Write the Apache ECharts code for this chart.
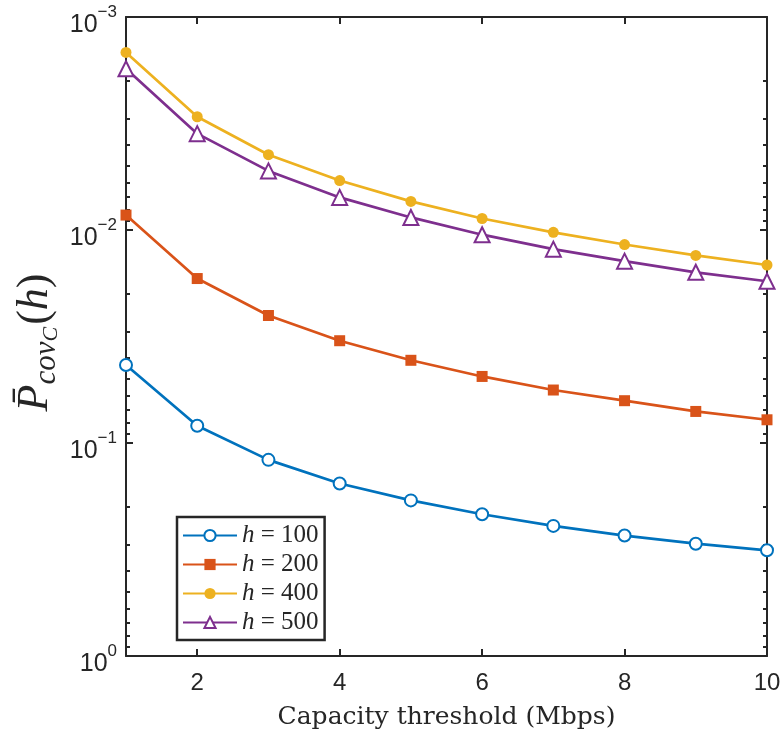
<!DOCTYPE html>
<html>
<head>
<meta charset="utf-8">
<script src="https://cdn.jsdelivr.net/npm/echarts@6/dist/echarts.min.js"></script>
<style>html,body{margin:0;padding:0;background:#fff}#c{width:780px;height:738px}</style>
</head>
<body>
<div id="c"></div>
<script>
const xValues = [1, 2, 3, 4, 5, 6, 7, 8, 9, 10];
const xTickLabels = [2, 4, 6, 8, 10];
const seriesNames = ['h = 100', 'h = 200', 'h = 400', 'h = 500'];
const h100 = [0.0430, 0.0830, 0.120, 0.155, 0.186, 0.216, 0.245, 0.272, 0.297, 0.319];
const h200 = [0.00851, 0.0169, 0.0252, 0.0331, 0.0409, 0.0487, 0.0564, 0.0633, 0.0711, 0.0778];
const h400 = [0.001466, 0.00294, 0.00443, 0.00586, 0.00734, 0.00883, 0.01026, 0.0117, 0.01316, 0.0146];
const h500 = [0.00175, 0.00353, 0.00528, 0.00703, 0.00873, 0.01052, 0.0123, 0.0140, 0.0158, 0.0174];
const yMajorExponents = [-3, -2, -1, 0];

const AX = '#262626';
const sansFont = '"Liberation Sans", Arial, Helvetica, sans-serif';
const serifFont = '"Liberation Serif", "DejaVu Serif", serif';
const wideSerif = '"DejaVu Serif", "Liberation Serif", serif';

const minorLog = [];
for (let d = -3; d < 0; d++) for (let k = 2; k <= 9; k++) minorLog.push(d + Math.log10(k));

const chart = echarts.init(document.getElementById('c'), null, {renderer: 'canvas'});

function mk(data) { return xValues.map((x, i) => [x, data[i]]); }

// every token fills the same line height (40); padding places the glyphs
const tickLabelRich = {
  b: {fontSize: 25, fontFamily: sansFont, color: AX, lineHeight: 24, padding: [16, 0, 0, 0]},
  s: {fontSize: 17, fontFamily: sansFont, color: AX, lineHeight: 17, padding: [7, 0, 16, 0]}
};

// every token fills the same line height (80); padding places the glyphs
const nameRich = {
  p: {fontFamily: serifFont, fontStyle: 'italic', fontSize: 44, lineHeight: 44, padding: [0, 0, 36, 0], color: AX},
  n: {fontFamily: serifFont, fontSize: 44, lineHeight: 44, padding: [0, 0, 36, 0], color: AX},
  e: {fontFamily: serifFont, fontSize: 44, lineHeight: 44, padding: [0, 12, 36, 0], color: AX},
  sub: {fontFamily: serifFont, fontStyle: 'italic', fontSize: 31, lineHeight: 31, padding: [18, 0, 31, 0], color: AX},
  ss: {fontFamily: serifFont, fontStyle: 'italic', fontSize: 22, lineHeight: 22, padding: [27, 2, 31, 0], color: AX}
};

const option = {
  animation: false,
  backgroundColor: '#ffffff',
  grid: {left: 126, right: 13, top: 17, bottom: 82, containLabel: false, outerBoundsMode: 'none'},
  xAxis: [
    {
      type: 'value', position: 'bottom', min: 1, max: 10,
      name: 'Capacity threshold (Mbps)', nameLocation: 'middle', nameGap: 49, nameMoveOverlap: false,
      nameTextStyle: {fontFamily: wideSerif, fontSize: 25, color: AX},
      axisLine: {show: true, onZero: false, lineStyle: {color: AX, width: 2}},
      axisTick: {show: true, inside: true, length: 7, lineStyle: {color: AX, width: 2}, customValues: xTickLabels},
      axisLabel: {show: true, customValues: xTickLabels, fontFamily: sansFont, fontSize: 24, color: AX, margin: 15},
      splitLine: {show: false}
    },
    {
      type: 'value', position: 'top', min: 1, max: 10,
      axisLine: {show: true, onZero: false, lineStyle: {color: AX, width: 2}},
      axisTick: {show: true, inside: true, length: 7, lineStyle: {color: AX, width: 2}, customValues: xTickLabels},
      axisLabel: {show: false},
      splitLine: {show: false}
    }
  ],
  yAxis: [
    {
      type: 'log', logBase: 10, min: 0.001, max: 1, inverse: true, position: 'left',
      name: '{p|P\u0304}{sub|cov}{ss|C}{n|(}{p|h}{e|)}',
      nameLocation: 'middle', nameRotate: 90, nameGap: 51, nameMoveOverlap: false,
      nameTextStyle: {color: AX, rich: nameRich},
      axisLine: {show: true, onZero: false, lineStyle: {color: AX, width: 2}},
      axisTick: {show: true, inside: true, length: 7, lineStyle: {color: AX, width: 2}},
      minorTick: {show: false},
      axisLabel: {
        show: true, margin: 9,
        formatter: function (v) {
          const e = Math.round(Math.log10(v));
          return '{b|10}{s|' + String(e).replace('-', '\u2212') + '}';
        },
        rich: tickLabelRich
      },
      splitLine: {show: false}
    },
    {
      type: 'value', min: -3, max: 0, inverse: true, position: 'left',
      axisLine: {show: false, onZero: false},
      axisTick: {show: true, inside: true, length: 4, lineStyle: {color: AX, width: 2}, customValues: minorLog},
      axisLabel: {show: false},
      splitLine: {show: false}
    },
    {
      type: 'value', min: -3, max: 0, inverse: true, position: 'right',
      axisLine: {show: true, onZero: false, lineStyle: {color: AX, width: 2}},
      axisTick: {show: true, inside: true, length: 7, lineStyle: {color: AX, width: 2}, customValues: yMajorExponents},
      axisLabel: {show: false},
      splitLine: {show: false}
    },
    {
      type: 'value', min: -3, max: 0, inverse: true, position: 'right',
      axisLine: {show: false, onZero: false},
      axisTick: {show: true, inside: true, length: 4, lineStyle: {color: AX, width: 2}, customValues: minorLog},
      axisLabel: {show: false},
      splitLine: {show: false}
    }
  ],
  legend: {
    orient: 'vertical', left: 177, top: 517,
    data: seriesNames,
    itemWidth: 54, itemHeight: 14, itemGap: 4,
    padding: [6, 6, 5, 5],
    backgroundColor: '#ffffff',
    borderColor: AX, borderWidth: 2.5, borderRadius: 0,
    formatter: function (name) {
      const parts = name.split(' = ');
      return '{i|' + parts[0] + '}{n| = ' + parts[1] + '}';
    },
    textStyle: {
      color: AX,
      rich: {
        i: {fontFamily: serifFont, fontStyle: 'italic', fontSize: 25, lineHeight: 22, color: AX},
        n: {fontFamily: serifFont, fontSize: 25, lineHeight: 22, color: AX}
      }
    }
  },
  series: [
    {name: seriesNames[0], type: 'line', data: mk(h100), color: '#0072BD', symbol: 'emptyCircle', symbolSize: 12,
      lineStyle: {width: 2.7}, itemStyle: {borderWidth: 2.7}},
    {name: seriesNames[1], type: 'line', data: mk(h200), color: '#D95319', symbol: 'rect', symbolSize: 11,
      lineStyle: {width: 2.7}},
    {name: seriesNames[2], type: 'line', data: mk(h400), color: '#EDB120', symbol: 'circle', symbolSize: 11,
      lineStyle: {width: 2.7}},
    {name: seriesNames[3], type: 'line', data: mk(h500), color: '#7E2F8E', symbol: 'emptyTriangle', symbolSize: 15,
      lineStyle: {width: 2.7}, itemStyle: {borderWidth: 2.7}}
  ]
};
chart.setOption(option);
</script>
</body>
</html>
